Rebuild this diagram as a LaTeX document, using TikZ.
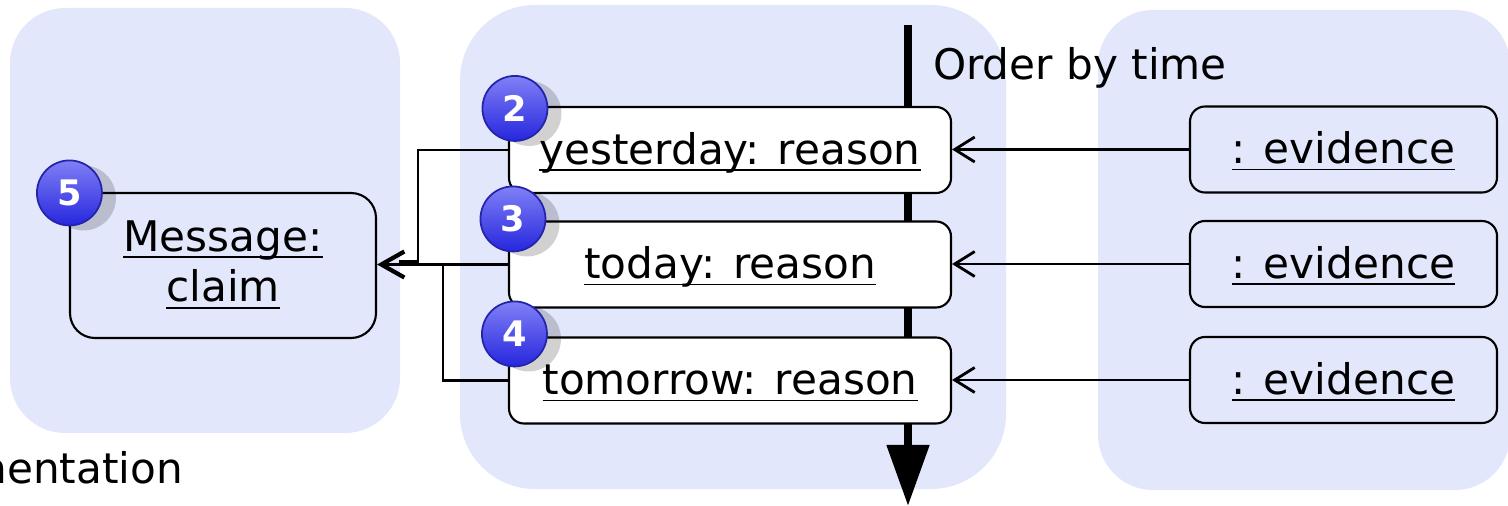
\documentclass[tikz,border=0pt]{standalone}
\usepackage{amsmath}
\usepackage{fontspec}
\setmainfont{DejaVu Sans}
\usetikzlibrary{arrows.meta,shadows}

\definecolor{panelblue}{RGB}{227,231,252}
\definecolor{badgetop}{RGB}{128,128,246}
\definecolor{badgebot}{RGB}{38,38,222}
\definecolor{badgeedge}{RGB}{36,36,170}

% underlined object name (line just under the baseline)
\newcommand{\ulabel}[1]{$\underline{\smash[b]{\hbox{#1}}}$}

\begin{document}
\begin{tikzpicture}[>={Straight Barb[length=0.2cm,width=0.25cm,line width=0.8pt]}, line width=0.6pt,
    txt/.style={font=\fontsize{12}{14.4}\selectfont},
    umlbox/.style={txt, draw, rounded corners=0.15cm, inner sep=0pt},
    reason/.style={umlbox, fill=white, minimum width=4.42cm, minimum height=0.86cm, text height=0.95em, text depth=0.14em},
    evidence/.style={umlbox, minimum width=3.07cm, minimum height=0.86cm, text height=0.95em, text depth=0.14em},
    badge/.style={circle, draw=badgeedge, line width=0.5pt, top color=badgetop, bottom color=badgebot,
        text=white, minimum size=0.65cm, inner sep=0pt, font=\fontsize{10}{12}\selectfont\bfseries,
        drop shadow={shadow xshift=0.14cm, shadow yshift=-0.05cm, fill=black, opacity=0.18}},
    toclaim/.style={-{Straight Barb[length=0.23cm,width=0.26cm,line width=1.2pt]}}]
    \useasboundingbox (0,0) rectangle (15.08,-5.06);

    % Hattér panelek
    \fill[panelblue, rounded corners=0.55cm] (0.10,-0.08) rectangle (4.00,-4.33);
    \fill[panelblue, rounded corners=0.75cm] (4.60,-0.05) rectangle (10.06,-4.89);
    \fill[panelblue, rounded corners=0.55cm] (10.98,-0.10) rectangle (15.10,-4.90);

    % Idő tengely
    \coordinate (timetop) at (9.08,-0.25);
    \coordinate (timeend) at (9.08,-5.06);
    \draw[line width=2.3pt, -{Triangle[length=0.61cm,width=0.41cm]}] (timetop) -- (timeend);
    \node[txt, anchor=base west, inner sep=0pt] (ordertxt) at (9.32,-0.80) {Order by time};
    \node[txt, anchor=base east, inner sep=0pt] (argtxt) at (1.84,-4.83) {nentation};

    % Claim
    \node[umlbox, rounded corners=0.25cm, align=center, minimum width=3.06cm, minimum height=1.45cm]
        (msg) at (2.23,-2.655) {\ulabel{Message:}\\\ulabel{claim}};

    % Reasons
    \node[reason] (yest)  at (7.30,-1.50)  {\ulabel{yesterday: reason}};
    \node[reason] (today) at (7.30,-2.645) {\ulabel{today: reason}};
    \node[reason] (tom)   at (7.30,-3.805) {\ulabel{tomorrow: reason}};

    % Evidences
    \node[evidence] (ev1) at (13.435,-1.495) {\ulabel{: evidence}};
    \node[evidence] (ev2) at (13.435,-2.64)  {\ulabel{: evidence}};
    \node[evidence] (ev3) at (13.435,-3.80)  {\ulabel{: evidence}};

    % Evidence -> reason
    \draw[->] (ev1.west) -- (ev1.west -| yest.east);
    \draw[->] (ev2.west) -- (ev2.west -| today.east);
    \draw[->] (ev3.west) -- (ev3.west -| tom.east);

    % Reason -> claim
    \coordinate (merge) at (today.west -| msg.east);
    \draw[toclaim] (today.west) -- (merge);
    \draw (yest.west) -| ([xshift=0.41cm,yshift=0.03cm]merge) -- ([xshift=0.22cm,yshift=0.03cm]merge);
    \draw (tom.west) -| ([xshift=0.66cm]merge);

    % Számozott jelölők
    \node[badge] (b5) at ([xshift=0.005cm,yshift=-0.01cm]msg.north west) {5};
    \node[badge] (b2) at ([xshift=0.07cm,yshift=-0.025cm]yest.north west) {2};
    \node[badge] (b3) at ([xshift=0.05cm,yshift=0.015cm]today.north west) {3};
    \node[badge] (b4) at ([xshift=0.065cm,yshift=0.025cm]tom.north west) {4};
\end{tikzpicture}
\end{document}
